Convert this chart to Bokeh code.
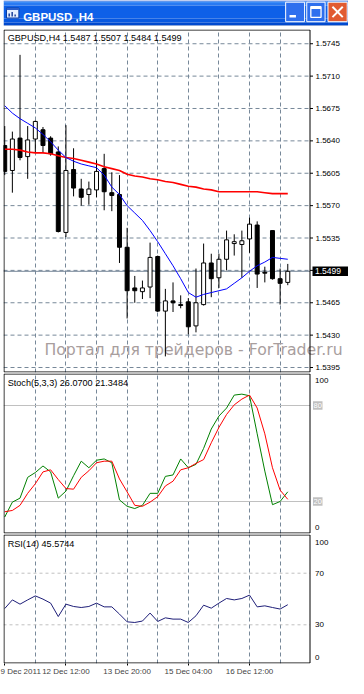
from bokeh.plotting import figure
from bokeh.layouts import column
from bokeh.models import Range1d, FixedTicker, Label, ColumnDataSource
from bokeh.embed import file_html
from bokeh.resources import INLINE
from bokeh.core.properties import value

# ---------------- data ----------------
WINDOW_TITLE = "GBPUSD ,H4"
SYMBOL = "GBPUSD,H4"
WATERMARK = "Портал для трейдеров - ForTrader.ru"

OPEN = [1.5635, 1.5608, 1.5643, 1.5623, 1.5642, 1.5652, 1.5643, 1.5628, 1.5541, 1.5609,
        1.5588, 1.5582, 1.5587, 1.5610, 1.5584, 1.5582, 1.5525, 1.5481, 1.5477, 1.5482,
        1.5515, 1.5456, 1.5467, 1.5463, 1.5466, 1.5440, 1.5463, 1.5508, 1.5492, 1.5512,
        1.5529, 1.5528, 1.5534, 1.5549, 1.5498, 1.5543, 1.5491, 1.5487]
HIGH = [1.5656, 1.5650, 1.5733, 1.5656, 1.5662, 1.5655, 1.5645, 1.5634, 1.5657, 1.5632,
        1.5599, 1.5596, 1.5619, 1.5626, 1.5606, 1.5603, 1.5546, 1.5494, 1.5489, 1.5530,
        1.5516, 1.5480, 1.5487, 1.5473, 1.5470, 1.5502, 1.5529, 1.5518, 1.5518, 1.5543,
        1.5539, 1.5543, 1.5557, 1.5553, 1.5504, 1.5543, 1.5502, 1.5507]
LOW = [1.5603, 1.5584, 1.5619, 1.5599, 1.5628, 1.5627, 1.5624, 1.5541, 1.5536, 1.5580,
       1.5570, 1.5571, 1.5579, 1.5565, 1.5564, 1.5508, 1.5448, 1.5465, 1.5469, 1.5470,
       1.5455, 1.5407, 1.5455, 1.5459, 1.5431, 1.5433, 1.5462, 1.5471, 1.5481, 1.5500,
       1.5516, 1.5492, 1.5519, 1.5481, 1.5487, 1.5490, 1.5463, 1.5484]
CLOSE = [1.5607, 1.5642, 1.5622, 1.5641, 1.5661, 1.5635, 1.5626, 1.5542, 1.5608, 1.5589,
         1.5579, 1.5588, 1.5607, 1.5585, 1.5581, 1.5525, 1.5478, 1.5478, 1.5481, 1.5514,
         1.5456, 1.5467, 1.5465, 1.5462, 1.5439, 1.5465, 1.5508, 1.5491, 1.5512, 1.5533,
         1.5531, 1.5532, 1.5550, 1.5496, 1.5497, 1.5491, 1.5486, 1.5499]
MA_FAST = [1.5678, 1.5670, 1.5664, 1.5659, 1.5654, 1.5647, 1.5639, 1.5630, 1.5622, 1.5618,
           1.5615, 1.5613, 1.5611, 1.5603, 1.5590, 1.5582, 1.5570, 1.5562, 1.5554, 1.5543,
           1.5531, 1.5518, 1.5505, 1.5491, 1.5476, 1.5471, 1.5474, 1.5476, 1.5478, 1.5480,
           1.5486, 1.5492, 1.5499, 1.5505, 1.5509, 1.5514, 1.5513, 1.5512]
MA_SLOW = [1.5631, 1.5631, 1.5630, 1.5628, 1.5627, 1.5627, 1.5626, 1.5624, 1.5622, 1.5621,
           1.5619, 1.5617, 1.5615, 1.5612, 1.5610, 1.5608, 1.5604, 1.5602, 1.5601, 1.5599,
           1.5598, 1.5596, 1.5595, 1.5593, 1.5591, 1.5590, 1.5588, 1.5587, 1.5585, 1.5585,
           1.5585, 1.5585, 1.5585, 1.5585, 1.5584, 1.5583, 1.5583, 1.5583]
STOCH_K = [10.3, 19.6, 22.1, 35.1, 38.1, 42.2, 38.5, 22.1, 26.5, 36.1,
           45.2, 41.1, 45.8, 46.6, 44.2, 21.0, 17.0, 15.6, 17.6, 25.1,
           25.1, 35.7, 36.6, 46.6, 41.1, 43.2, 53.2, 65.3, 73.4, 78.4,
           86.5, 87.1, 86.1, 62.3, 39.0, 18.0, 20.0, 26.0700]
STOCH_D = [13.6, 14.4, 17.6, 25.1, 31.1, 38.5, 39.8, 33.7, 28.1, 27.7,
           35.1, 39.2, 44.2, 45.2, 45.2, 34.1, 26.0, 17.6, 17.0, 19.6,
           23.0, 29.7, 32.7, 39.8, 41.1, 43.8, 46.2, 56.7, 66.3, 74.4,
           80.4, 84.0, 86.5, 78.4, 62.3, 41.1, 27.1, 21.3484]
RSI = [42.6, 49.3, 46.0, 49.3, 52.4, 49.9, 46.8, 36.4, 46.0, 44.2,
       43.4, 44.2, 46.8, 43.9, 43.9, 38.3, 32.3, 31.8, 32.9, 39.1,
       32.6, 35.4, 34.4, 34.4, 31.8, 37.0, 45.2, 42.9, 46.8, 50.4,
       49.3, 50.4, 53.0, 43.9, 44.7, 43.4, 42.2, 45.5744]
BID = 1.5499
PRICE_TICK_LABELS = ["1.5395", "1.5430", "1.5465", "1.5500", "1.5535", "1.5570",
                     "1.5605", "1.5640", "1.5675", "1.5710", "1.5745"]
DATE_LABELS = ["9 Dec 2011", "12 Dec 12:00", "13 Dec 20:00", "15 Dec 04:00", "16 Dec 12:00"]
DATE_BARS = [0, 8, 16, 24, 32]
GRID_BARS = [4, 8, 12, 16, 20, 24, 28, 32, 36]
STOCH_LEVELS = [20, 80]
RSI_LEVELS = [30, 70]
STOCH_AXIS_LABELS = ["0", "100"]
STOCH_AXIS_POS = [3.5, 95.5]
RSI_AXIS_LABELS = ["0", "30", "70", "100"]
RSI_AXIS_POS = [4.5, 30, 70, 94]

# ---------------- style / geometry ----------------
W = 348
FONT = "Liberation Sans"
GRID_COLOR = "#778899"
PX = 7.65                      # pixels per bar
XR0 = -0.16
XR1 = XR0 + 306.5 / PX         # right edge of the chart frame
XEND = XR0 + 345 / PX          # right edge of the price-scale strip
X = list(range(len(OPEN)))
MAIN_Y = (1.53896, 1.57604)
MAIN_FRAME_PX = 343


def panel(height, y0, y1, top_b, bottom_b, xaxis=None):
    p = figure(width=W, height=height, output_backend="svg", toolbar_location=None,
               x_range=Range1d(XR0, XEND), y_range=Range1d(y0, y1),
               x_axis_location=xaxis, y_axis_location=None,
               min_border_left=3, min_border_right=0,
               min_border_top=top_b, min_border_bottom=bottom_b)
    p.outline_line_color = None
    p.background_fill_color = "white"
    p.border_fill_color = "white"
    p.xgrid.ticker = FixedTicker(ticks=GRID_BARS)
    p.xgrid.grid_line_color = GRID_COLOR
    p.xgrid.grid_line_dash = "4 3"
    p.ygrid.visible = False
    return p


def frame(p, y0, y1, upx):
    p.quad(left=[XR0 + 0.5 / PX], right=[XR1], top=[y1 - 0.5 * upx], bottom=[y0 + 0.5 * upx],
           fill_color=None, line_color="black", line_width=1)


def hlines(p, ys, color, dash="solid"):
    p.segment(x0=[XR0] * len(ys), y0=ys, x1=[XR1] * len(ys), y1=ys,
              line_color=color, line_width=1, line_dash=dash)


def scale_text(p, ys, texts, dx=5.5, size="8px"):
    p.text(x=[XR1 + dx / PX] * len(ys), y=ys, text=texts, text_font=value(FONT),
           text_font_size=size, text_color="black", text_baseline="middle", text_align="left")


def header(p, y, text):
    p.add_layout(Label(x=XR0 + 4.2 / PX, y=y, text=text, text_font=FONT, text_font_size="9.1px",
                       text_color="black", text_baseline="top"))


# ---------------- title bar ----------------
t = figure(width=W, height=28, output_backend="svg", toolbar_location=None,
           x_range=Range1d(0, W), y_range=Range1d(28, 0),
           x_axis_location=None, y_axis_location=None, min_border=0)
t.outline_line_color = None
t.grid.visible = False
t.background_fill_color = "white"
t.border_fill_color = "white"
band_top = [0, 1, 2.5, 5, 18, 22, 24.4, 25.4]
band_bot = [1, 2.5, 5, 18, 22, 24.4, 25.4, 28]
band_col = ["#0A3FC8", "#3C8DF8", "#2A7AF2", "#0E60E8", "#0858E0", "#0049CF", "#8DA6D8", "#FFFFFF"]
t.quad(left=0, right=W, top=band_top, bottom=band_bot, fill_color=band_col, line_color=None)
t.quad(left=[3], right=[15.5], top=[7.5], bottom=[17.5], fill_color="#E4EEFF", line_color="#0B3A9E")
t.quad(left=[3], right=[15.5], top=[7.5], bottom=[9.5], fill_color="#2B5DC8", line_color=None)
t.quad(left=[5, 8, 11], right=[6.5, 9.5, 12.5], top=[13, 11.5, 14], bottom=[16, 16, 16],
       fill_color="#1C3F9A", line_color=None)
t.add_layout(Label(x=19.8, y=16.3, text=WINDOW_TITLE, text_font=FONT, text_font_size="11.5px",
                   text_font_style="bold", text_color="white", text_baseline="alphabetic"))
t.quad(left=[284.6, 305.9], right=[303.7, 324.4], top=[1.7, 1.7], bottom=[21.2, 21.2],
       fill_color="#2E6FEE", line_color="white", line_width=1)
t.quad(left=[327.3], right=[346.7], top=[1.7], bottom=[21.2],
       fill_color="#E15B32", line_color="white", line_width=1)
t.quad(left=[288.5], right=[295], top=[14.6], bottom=[17], fill_color="white", line_color=None)
t.quad(left=[310], right=[320.3], top=[6.2], bottom=[16.8], fill_color=None,
       line_color="white", line_width=1.3)
t.quad(left=[310], right=[320.3], top=[6.2], bottom=[8.4], fill_color="white", line_color=None)
t.segment(x0=[331.8, 331.8], y0=[6.3, 16.6], x1=[342.2, 342.2], y1=[16.6, 6.3],
          line_color="white", line_width=2)

# ---------------- main price panel ----------------
PP = (MAIN_Y[1] - MAIN_Y[0]) / MAIN_FRAME_PX
p = panel(MAIN_FRAME_PX + 2, MAIN_Y[0], MAIN_Y[1], 1, 1)
PRICE_TICKS = [float(s) for s in PRICE_TICK_LABELS]
hlines(p, PRICE_TICKS, GRID_COLOR, "4 3")
p.text(x=[XR0 + 190 / PX], y=[MAIN_Y[1] - 320 * PP], text=[WATERMARK], text_align="center",
       text_baseline="middle", text_font=value("DejaVu Sans"), text_font_size="15.7px",
       text_color="#A89E9E")
hlines(p, [BID], GRID_COLOR)

src = ColumnDataSource(dict(
    x=X, h=HIGH, l=LOW,
    top=[max(o, c) for o, c in zip(OPEN, CLOSE)],
    bottom=[min(o, c) for o, c in zip(OPEN, CLOSE)],
    fill=["white" if c >= o else "black" for o, c in zip(OPEN, CLOSE)],
))
p.segment(x0="x", y0="h", x1="x", y1="l", source=src, line_color="black", line_width=1)
p.vbar(x="x", width=0.52, top="top", bottom="bottom", fill_color="fill",
       line_color="black", line_width=1, source=src)
p.line(X, MA_SLOW, line_color="#FF0000", line_width=1.6)
p.line(X, MA_FAST, line_color="#0000FF", line_width=1)
frame(p, MAIN_Y[0], MAIN_Y[1], PP)

# price scale
p.segment(x0=[XR1] * len(PRICE_TICKS), y0=PRICE_TICKS, x1=[XR1 + 3 / PX] * len(PRICE_TICKS),
          y1=PRICE_TICKS, line_color="black", line_width=1)
shown = [(v, s) for v, s in zip(PRICE_TICKS, PRICE_TICK_LABELS) if abs(v - BID) > 0.0006]
scale_text(p, [v for v, _ in shown], [s for _, s in shown])
p.quad(left=[XR1 + 2.5 / PX], right=[XEND - 0.5 / PX], top=[BID + 4.7 * PP],
       bottom=[BID - 4.7 * PP], fill_color="black", line_color=None)
p.text(x=[XR1 + 5 / PX], y=[BID], text=[f"{BID:.4f}"], text_font=value(FONT),
       text_font_size="8.5px", text_color="white", text_baseline="middle")

header(p, MAIN_Y[1] - 3.5 * PP,
       f"{SYMBOL} {OPEN[-1]:.4f} {HIGH[-1]:.4f} {LOW[-1]:.4f} {CLOSE[-1]:.4f}")

# ---------------- stochastic panel ----------------
s = panel(161, 0, 100, 0, 1)
hlines(s, STOCH_LEVELS, "#C0C0C0")
s.line(X, STOCH_K, line_color="#008000", line_width=1)
s.line(X, STOCH_D, line_color="#FF0000", line_width=1)
frame(s, 0, 100, 1 / 1.6)
scale_text(s, STOCH_AXIS_POS, STOCH_AXIS_LABELS, dx=5)
s.quad(left=[XR1 + 3 / PX] * 2, right=[XR1 + 12.5 / PX] * 2,
       top=[lv + 2.6 for lv in STOCH_LEVELS], bottom=[lv - 2.6 for lv in STOCH_LEVELS],
       fill_color="#C0C0C0", line_color=None)
s.text(x=[XR1 + 3.6 / PX] * 2, y=STOCH_LEVELS, text=[str(lv) for lv in STOCH_LEVELS],
       text_font=value(FONT), text_font_size="7.5px", text_color="white",
       text_baseline="middle")
header(s, 97.4, f"Stoch(5,3,3) {STOCH_K[-1]:.4f} {STOCH_D[-1]:.4f}")

# ---------------- RSI panel ----------------
r = panel(144, 0, 100, 0, 14, xaxis="below")
hlines(r, RSI_LEVELS, "#C0C0C0", "3 3")
r.line(X, RSI, line_color="#1E1E78", line_width=1)
frame(r, 0, 100, 1 / 1.3)
scale_text(r, RSI_AXIS_POS, RSI_AXIS_LABELS, dx=5)
header(r, 96.4, f"RSI(14) {RSI[-1]:.4f}")
ax = r.xaxis[0]
ax.ticker = FixedTicker(ticks=DATE_BARS)
ax.major_label_overrides = dict(zip(DATE_BARS, DATE_LABELS))
ax.axis_line_color = None
ax.major_tick_line_color = "black"
ax.major_tick_out = 2
ax.major_tick_in = 0
ax.minor_tick_line_color = None
ax.major_label_text_font = FONT
ax.major_label_text_font_size = "8px"
ax.major_label_text_align = "left"
ax.major_label_standoff = 1

layout = column(t, p, s, r, spacing=0)
open("out.html", "w").write(file_html(layout, INLINE))
